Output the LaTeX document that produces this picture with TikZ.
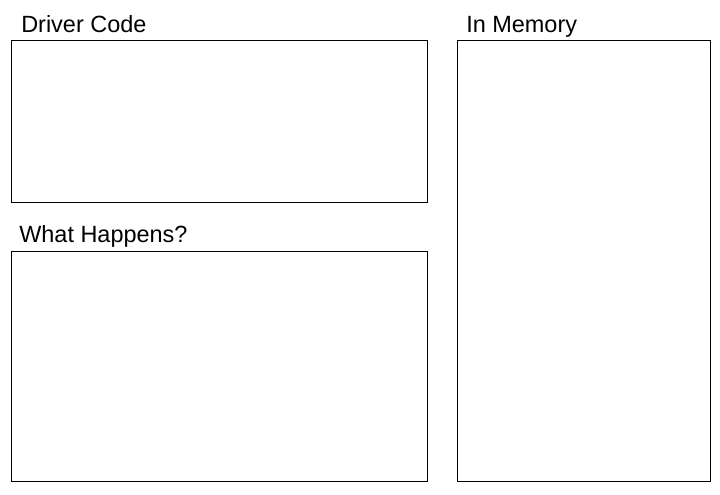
\documentclass[tikz,border=0pt]{standalone}
\usepackage{fontspec}
\setmainfont{Liberation Sans}
\usetikzlibrary{calc}

\begin{document}
\begin{tikzpicture}[x=0.75pt,y=-0.75pt]
\tikzset{
  panel/.style={draw=black,line width=0.75pt},
  caption/.style={anchor=base west,inner sep=0pt,font=\fontsize{17.6}{21}\selectfont}
}
\useasboundingbox (0,0) rectangle (720,494);

% Corners of the three panels.
\coordinate (DrvNW) at (11,40);
\coordinate (DrvSE) at (427,202);
\coordinate (WhtNW) at (11,251);
\coordinate (WhtSE) at (427,481);
\coordinate (MemNW) at (457,40);
\coordinate (MemSE) at (710,481);

% Draw the panels.
\draw[panel] (DrvNW) rectangle (DrvSE);
\draw[panel] (WhtNW) rectangle (WhtSE);
\draw[panel] (MemNW) rectangle (MemSE);

% Titles above the panels.
\node[caption] (drvtitle) at ($(DrvNW)+(10,-8)$) {Driver Code};
\node[caption] (whttitle) at ($(WhtNW)+(8,-9)$) {What Happens?};
\node[caption] (memtitle) at ($(MemNW)+(9,-8)$) {In Memory};

\end{tikzpicture}
\end{document}
